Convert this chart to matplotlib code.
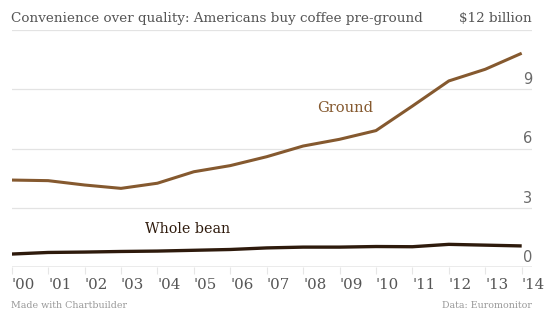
import matplotlib
matplotlib.use("Agg")
import matplotlib.pyplot as plt

years = ["'00", "'01", "'02", "'03", "'04", "'05", "'06", "'07", "'08", "'09", "'10", "'11", "'12", "'13", "'14"]
ground = [4.41, 4.38, 4.16, 3.99, 4.25, 4.83, 5.14, 5.59, 6.13, 6.47, 6.91, 8.15, 9.42, 10.01, 10.82]
whole_bean = [0.67, 0.75, 0.77, 0.80, 0.82, 0.86, 0.90, 0.98, 1.02, 1.02, 1.05, 1.04, 1.16, 1.12, 1.08]
y_ticks = [0, 3, 6, 9, 12]
y_tick_labels = ["0", "3", "6", "9", "$12 billion"]

W, H = 553, 325
fig = plt.figure(figsize=(W / 100, H / 100), dpi=100)
fig.patch.set_facecolor("white")

left, right, bottom, top = 11.5, 532, 267.3, 29.9
ax = fig.add_axes([left / W, (H - bottom) / H, (right - left) / W, (bottom - top) / H])
ax.set_facecolor("white")

x = list(range(len(years)))
ax.plot(x, ground, color="#85592f", lw=2.2, solid_capstyle="butt", zorder=3)
ax.plot(x, whole_bean, color="#2e1a0c", lw=2.4, solid_capstyle="butt", zorder=3)

ax.set_xlim(-0.005, 14.283)
ax.set_ylim(0, 12)

for v in y_ticks[1:]:
    ax.axhline(v, color="#e3e3e3", lw=0.9, zorder=1)
ax.axhline(0, color="#9a9a9a", lw=1.0, zorder=2)

for spine in ax.spines.values():
    spine.set_visible(False)

ax.set_yticks([])
ax.set_xticks(x)
ax.set_xticklabels(years, fontfamily="DejaVu Serif", fontsize=10.8, color="#555555", ha="left")
ax.tick_params(axis="x", length=5, width=0.8, color="#e6e6e6", pad=3)

for v, lab in zip(y_ticks[:-1], y_tick_labels[:-1]):
    ax.text(1.0, v + 0.12, lab, transform=ax.get_yaxis_transform(), ha="right", va="bottom",
            fontsize=10.5, color="#6a6a6a", fontfamily="DejaVu Sans")

# title row on 12 line
fig.text(11 / W, 1 - 22 / H, "Convenience over quality: Americans buy coffee pre-ground",
         ha="left", va="baseline", fontsize=9.7, color="#555555", fontfamily="DejaVu Serif")
fig.text(532 / W, 1 - 22 / H, y_tick_labels[-1],
         ha="right", va="baseline", fontsize=9.7, color="#555555", fontfamily="DejaVu Serif")

ax.text(9.15, 8.05, "Ground", ha="center", va="center", fontsize=10.5,
        color="#85592f", fontfamily="DejaVu Serif")
ax.text(4.84, 1.94, "Whole bean", ha="center", va="center", fontsize=10.3,
        color="#2e1a0c", fontfamily="DejaVu Serif")

fig.text(11 / W, 1 - 308 / H, "Made with Chartbuilder", ha="left", va="baseline",
         fontsize=6.8, color="#999999", fontfamily="DejaVu Serif")
fig.text(532 / W, 1 - 308 / H, "Data: Euromonitor", ha="right", va="baseline",
         fontsize=6.8, color="#999999", fontfamily="DejaVu Serif")

fig.savefig("out.png", dpi=100, facecolor="white")
